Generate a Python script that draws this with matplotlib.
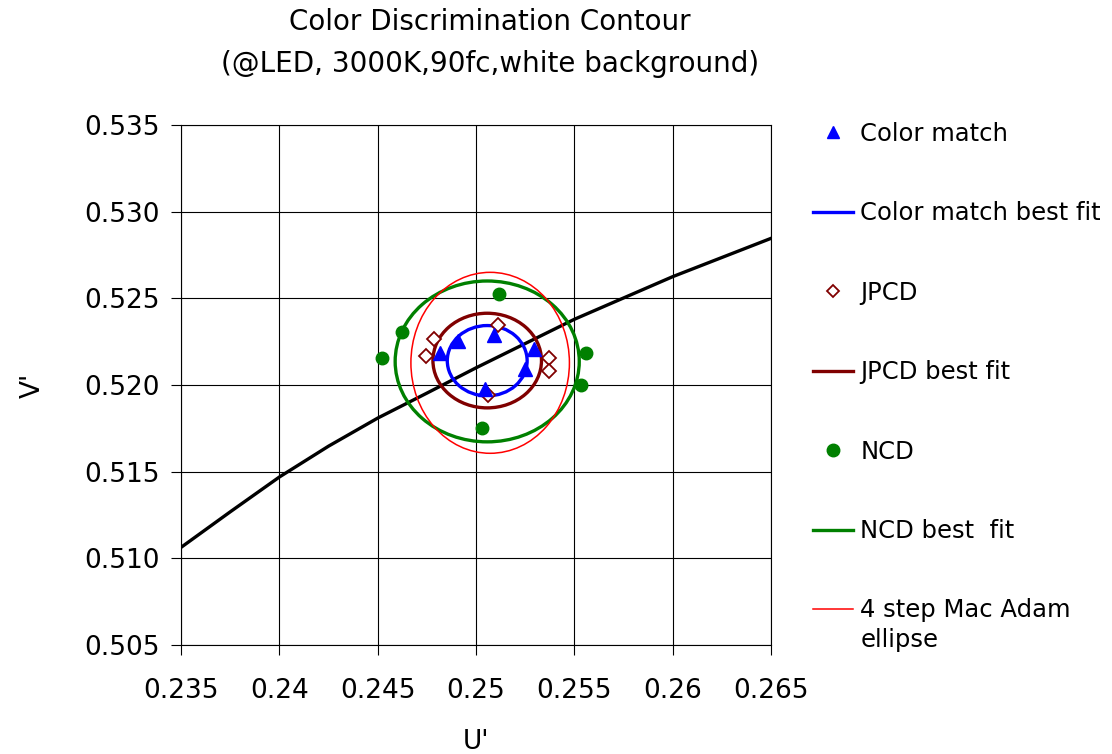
import matplotlib
matplotlib.use("Agg")
import matplotlib.pyplot as plt
from matplotlib.patches import Ellipse
from matplotlib.lines import Line2D

plt.rcParams['font.family'] = ['DejaVu Sans']

# ---- data (u', v') ----
color_match_u = [0.25092, 0.24910, 0.24817, 0.25295, 0.25249, 0.25046]
color_match_v = [0.52288, 0.52254, 0.52183, 0.52206, 0.52091, 0.51975]

jpcd_u = [0.25110, 0.24788, 0.24744, 0.25373, 0.25373, 0.25063]
jpcd_v = [0.52346, 0.52267, 0.52166, 0.52156, 0.52082, 0.51942]

ncd_u = [0.25118, 0.24622, 0.24524, 0.25559, 0.25535, 0.25029]
ncd_v = [0.52523, 0.52307, 0.52154, 0.52186, 0.52002, 0.51750]

# Planckian locus
locus_u = [0.235, 0.2375, 0.240, 0.2425, 0.245, 0.2475, 0.250, 0.255, 0.260, 0.265]
locus_v = [0.51063, 0.51268, 0.51469, 0.51647, 0.51809, 0.51953, 0.52099,
           0.52379, 0.52625, 0.52846]

# best-fit ellipses: centre u, centre v, semi-axis u, semi-axis v
cm_fit = (0.25057, 0.52140, 0.00203, 0.00203)
jpcd_fit = (0.25057, 0.52141, 0.00276, 0.00273)
ncd_fit = (0.25057, 0.52136, 0.00468, 0.00464)
macadam = (0.25072, 0.52128, 0.00403, 0.00522)

x_ticks = [0.235, 0.24, 0.245, 0.25, 0.255, 0.26, 0.265]
x_tick_labels = ['0.235', '0.24', '0.245', '0.25', '0.255', '0.26', '0.265']
y_ticks = [0.505, 0.510, 0.515, 0.520, 0.525, 0.530, 0.535]
y_tick_labels = ['0.505', '0.510', '0.515', '0.520', '0.525', '0.530', '0.535']

BLUE = '#0000FF'
BROWN = '#800000'
GREEN = '#008000'
RED = '#FF0000'

W, H = 1112, 754
fig = plt.figure(figsize=(W/100, H/100), dpi=100)
ax = fig.add_axes([181/W, 1-645/H, 590/W, 520/H])

ax.set_xlim(0.235, 0.265)
ax.set_ylim(0.505, 0.535)
ax.set_xticks(x_ticks)
ax.set_xticklabels(x_tick_labels)
ax.set_yticks(y_ticks)
ax.set_yticklabels(y_tick_labels)
ax.grid(True, color='black', linewidth=0.8)
ax.set_axisbelow(True)
for s in ax.spines.values():
    s.set_linewidth(0.8)
ax.tick_params(direction='out', length=7, width=0.8, labelsize=19)
ax.tick_params(axis='x', pad=17)
ax.tick_params(axis='y', pad=8)

ax.plot(locus_u, locus_v, color='black', linewidth=2.4, zorder=3)

def draw_ellipse(p, color, lw):
    e = Ellipse((p[0], p[1]), 2*p[2], 2*p[3], fill=False, edgecolor=color,
                linewidth=lw, zorder=4)
    ax.add_patch(e)

draw_ellipse(ncd_fit, GREEN, 2.4)
draw_ellipse(macadam, RED, 1.1)
draw_ellipse(jpcd_fit, BROWN, 2.4)
draw_ellipse(cm_fit, BLUE, 2.4)

ax.plot(ncd_u, ncd_v, 'o', color=GREEN, markersize=9, linestyle='none', zorder=5)
ax.plot(jpcd_u, jpcd_v, 'D', markerfacecolor='white', markeredgecolor=BROWN,
        markeredgewidth=1.3, markersize=7, linestyle='none', zorder=6)
ax.plot(color_match_u, color_match_v, '^', color=BLUE, markersize=10.5,
        linestyle='none', zorder=7)

ax.set_xlabel("U'", fontsize=19, labelpad=18)
ax.set_ylabel("V'", fontsize=19, labelpad=28)

handles = [
    Line2D([], [], marker='^', color=BLUE, linestyle='none', markersize=9),
    Line2D([], [], color=BLUE, linewidth=2.4),
    Line2D([], [], marker='D', markerfacecolor='white', markeredgecolor=BROWN,
           markeredgewidth=1.3, linestyle='none', markersize=6),
    Line2D([], [], color=BROWN, linewidth=2.4),
    Line2D([], [], marker='o', color=GREEN, linestyle='none', markersize=9),
    Line2D([], [], color=GREEN, linewidth=2.4),
    Line2D([], [], color=RED, linewidth=1.1),
]
labels = ['Color match', 'Color match best fit', 'JPCD', 'JPCD best fit',
          'NCD', 'NCD best  fit', '4 step Mac Adam']
leg = fig.legend(handles, labels, loc='upper left',
                 bbox_to_anchor=(813/W, 1-122/H), frameon=False,
                 fontsize=17.5, labelspacing=2.28, handlelength=1.65,
                 handletextpad=0.3, borderpad=0, borderaxespad=0)

# second line of the last legend label
fig.canvas.draw()
last = leg.get_texts()[-1]
bb = last.get_window_extent()
fig.text(bb.x0/W, (bb.y0 - 30)/H, 'ellipse', fontsize=17.5, ha='left', va='bottom')

fig.text(490/W, 1-22/H, 'Color Discrimination Contour', fontsize=20,
         ha='center', va='center')
fig.text(490/W, 1-64/H, '(@LED, 3000K,90fc,white background)', fontsize=20,
         ha='center', va='center')

fig.savefig('out.png', dpi=100)
